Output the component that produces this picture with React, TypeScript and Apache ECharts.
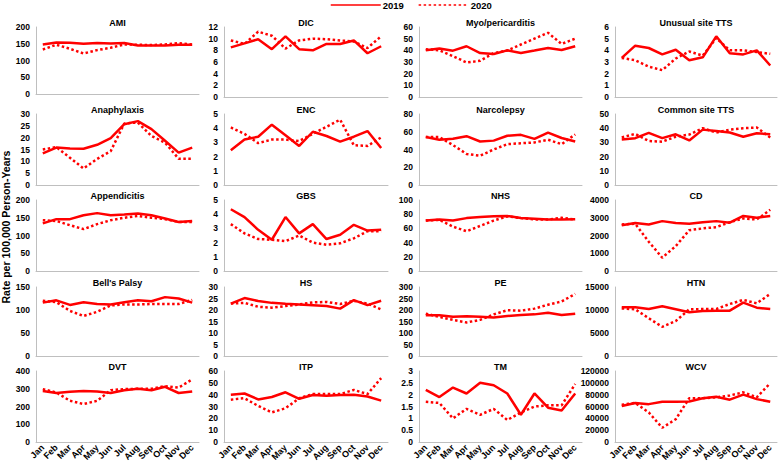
import React, { useEffect, useRef } from "react";
import * as echarts from "echarts";

const months = ["Jan", "Feb", "Mar", "Apr", "May", "Jun", "Jul", "Aug", "Sep", "Oct", "Nov", "Dec"];
const seriesNames = ["2019", "2020"];
const panelNames = [
  "AMI", "DIC", "Myo/pericarditis", "Unusual site TTS",
  "Anaphylaxis", "ENC", "Narcolepsy", "Common site TTS",
  "Appendicitis", "GBS", "NHS", "CD",
  "Bell's Palsy", "HS", "PE", "HTN",
  "DVT", "ITP", "TM", "WCV",
];
const yMax = [200, 12, 60, 6, 30, 5, 80, 50, 200, 5, 100, 4000, 150, 30, 300, 15000, 400, 60, 3, 120000];
const yStep = [50, 2, 10, 1, 5, 1, 20, 10, 50, 1, 20, 1000, 50, 5, 50, 5000, 100, 10, 0.5, 20000];

const ami2019 = [148, 154, 153, 150, 152, 151, 152, 145, 145, 145, 147, 147];
const ami2020 = [133, 147, 135, 121, 131, 138, 148, 147, 146, 148, 152, 148];
const dic2019 = [8.5, 9.2, 9.9, 8.2, 10.4, 8.2, 8.0, 9.1, 9.1, 9.7, 7.5, 8.7];
const dic2020 = [9.7, 9.1, 11.2, 10.5, 8.3, 9.7, 10.0, 9.9, 9.7, 9.5, 8.4, 10.4];
const myo2019 = [40, 41.5, 39.7, 43.5, 37.7, 36.8, 40, 37.7, 39.8, 42, 40.3, 43.5];
const myo2020 = [41, 40, 35, 29.6, 31, 37.7, 39.8, 45, 50, 55, 45.5, 50];
const uTts2019 = [3.35, 4.4, 4.2, 3.65, 4.05, 3.15, 3.4, 5.2, 3.75, 3.65, 4.0, 2.7];
const uTts2020 = [3.35, 3.15, 2.6, 2.3, 3.3, 3.9, 3.55, 5.05, 4.0, 4.0, 3.85, 3.7];
const ana2019 = [13.4, 15.8, 15.4, 15.3, 17, 19.8, 25.7, 27, 23.6, 18.7, 13.7, 15.8];
const ana2020 = [15, 16, 11.5, 7, 11, 14.3, 26, 26.4, 20.7, 17.9, 11.1, 11.1];
const enc2019 = [2.45, 3.2, 3.4, 4.25, 3.5, 2.75, 3.75, 3.45, 3.05, 3.4, 3.8, 2.6];
const enc2020 = [4.05, 3.6, 2.95, 3.2, 3.2, 3.1, 3.6, 4.1, 4.6, 2.8, 2.75, 3.35];
const narc2019 = [54, 51, 52, 55, 49, 50, 55.5, 56.5, 52, 59, 53, 49];
const narc2020 = [54, 54, 45, 35, 33, 40, 46, 47, 48, 51, 46, 57];
const cTts2019 = [32, 33, 36.7, 33, 35.7, 31.4, 39, 38, 37, 34, 36.4, 35.7];
const cTts2020 = [33.5, 36, 31, 30.5, 34, 35.5, 40, 37, 39, 40, 40.5, 33.5];
const app2019 = [134, 146, 146, 157, 163, 157, 159, 162, 157, 148, 138, 141];
const app2020 = [143, 141, 129, 118, 132, 143, 150, 155, 150, 146, 138, 138];
const gbs2019 = [4.35, 3.8, 2.9, 2.2, 3.8, 2.65, 3.3, 2.25, 2.55, 3.25, 2.85, 2.9];
const gbs2020 = [3.3, 2.65, 2.25, 2.2, 2.1, 2.5, 2.0, 1.85, 1.95, 2.3, 2.8, 2.8];
const nhs2019 = [71, 72.5, 71, 74.5, 76, 77, 77.5, 74.5, 73.5, 72.5, 72.5, 73];
const nhs2020 = [71, 72, 62.5, 56, 63.5, 71, 77, 74.5, 72.5, 72.5, 75, 72.5];
const cd2019 = [2580, 2700, 2620, 2810, 2700, 2660, 2740, 2810, 2720, 3100, 3000, 3100];
const cd2020 = [2620, 2660, 1650, 750, 1400, 2300, 2400, 2470, 2750, 2960, 2900, 3450];
const bell2019 = [116, 121, 111, 117, 113, 112, 117, 121, 119, 128, 125, 116];
const bell2020 = [120, 117, 98, 87, 96, 110, 112, 112, 113, 113, 113, 122];
const hs2019 = [22.8, 25.2, 23.9, 23.1, 22.7, 22.4, 22.1, 21.7, 20.6, 24.3, 22.1, 24];
const hs2020 = [22.8, 23.1, 21.4, 21, 21.7, 22.4, 23.3, 23.5, 22.6, 24, 22.8, 20.2];
const pe2019 = [177, 177, 171, 173, 171, 167, 174, 178, 181, 188, 178, 184];
const pe2020 = [184, 170, 157, 146, 157, 181, 199, 197, 206, 223, 237, 270];
const htn2019 = [10600, 10600, 10200, 10800, 10150, 9500, 9800, 9850, 9850, 11600, 10500, 10200];
const htn2020 = [10350, 10150, 8200, 6350, 7600, 10150, 10200, 10200, 11300, 12200, 11450, 13500];
const dvt2019 = [287, 276, 283, 288, 285, 276, 292, 300, 292, 311, 276, 285];
const dvt2020 = [298, 279, 232, 214, 232, 292, 298, 300, 300, 315, 306, 353];
const itp2019 = [40, 41, 36, 38, 42, 36.5, 39.7, 39, 39.7, 40, 38.5, 35];
const itp2020 = [35.8, 37, 30.5, 25, 28.5, 37, 40.5, 40.5, 40.5, 44, 40.5, 54];
const tm2019 = [2.2, 1.9, 2.3, 2.05, 2.5, 2.4, 2.05, 1.15, 2.05, 1.45, 1.33, 2.05];
const tm2020 = [1.7, 1.65, 1.0, 1.4, 1.15, 1.4, 0.93, 1.25, 1.5, 1.55, 1.55, 2.45];
const wcv2019 = [61000, 66000, 64000, 68000, 68000, 68500, 74000, 76500, 71500, 80000, 72500, 68000];
const wcv2020 = [63000, 66000, 50000, 24000, 38500, 74000, 74000, 75500, 78500, 84000, 75500, 99500];

const values2019 = [ami2019, dic2019, myo2019, uTts2019, ana2019, enc2019, narc2019, cTts2019, app2019, gbs2019, nhs2019, cd2019, bell2019, hs2019, pe2019, htn2019, dvt2019, itp2019, tm2019, wcv2019];
const values2020 = [ami2020, dic2020, myo2020, uTts2020, ana2020, enc2020, narc2020, cTts2020, app2020, gbs2020, nhs2020, cd2020, bell2020, hs2020, pe2020, htn2020, dvt2020, itp2020, tm2020, wcv2020];

const colLeft = [36, 224, 419, 615];
const colWidth = [163, 164, 163, 162];
const rowTop = [27, 114, 200, 287, 371];
const rowBottom = [97, 185, 271, 356, 442];

const RED = "#ff0000";
const AXIS = "#bfbfbf";
const FONT = "Liberation Sans, Arial, sans-serif";

export default function App() {
  const ref = useRef<HTMLDivElement>(null);
  useEffect(() => {
    if (!ref.current) return;
    const chart = echarts.init(ref.current, null, { renderer: "svg" });
    const grids: any[] = [];
    const xAxes: any[] = [];
    const yAxes: any[] = [];
    const series: any[] = [];
    const graphics: any[] = [];
    panelNames.forEach((name, i) => {
      const r = Math.floor(i / 4);
      const c = i % 4;
      const top = rowTop[r];
      const bottom = i === 0 ? 94 : rowBottom[r];
      grids.push({ left: colLeft[c], top, width: colWidth[c], height: bottom - top, containLabel: false });
      xAxes.push({
        type: "category",
        gridIndex: i,
        data: months,
        boundaryGap: true,
        axisLine: { show: true, lineStyle: { color: AXIS, width: 1 } },
        axisTick: { show: false },
        splitLine: { show: false },
        axisLabel: {
          show: r === 4,
          interval: 0,
          rotate: 45,
          fontSize: 9,
          fontWeight: "bold",
          color: "#000",
          fontFamily: FONT,
          margin: 4,
        },
      });
      yAxes.push({
        type: "value",
        gridIndex: i,
        min: 0,
        max: yMax[i],
        interval: yStep[i],
        axisLine: { show: true, lineStyle: { color: AXIS, width: 1 } },
        axisTick: { show: false },
        splitLine: { show: false },
        axisLabel: {
          formatter: (v: number) => String(v),
          fontSize: 8.5,
          fontWeight: "bold",
          color: "#000",
          fontFamily: FONT,
          margin: 6,
        },
      });
      series.push({
        name: seriesNames[0],
        type: "line",
        xAxisIndex: i,
        yAxisIndex: i,
        data: values2019[i],
        symbol: "none",
        lineStyle: { color: RED, width: 2.5, type: "solid" },
        itemStyle: { color: RED },
        z: 3,
      });
      series.push({
        name: seriesNames[1],
        type: "line",
        xAxisIndex: i,
        yAxisIndex: i,
        data: values2020[i],
        symbol: "none",
        lineStyle: { color: RED, width: 2.5, type: [2.5, 2.5], cap: "butt" },
        itemStyle: { color: RED },
        z: 2,
      });
      graphics.push({
        type: "text",
        x: colLeft[c] + colWidth[c] / 2,
        y: top - 4,
        style: {
          text: name,
          fontSize: 9,
          fontWeight: "bold",
          fontFamily: FONT,
          fill: "#000",
          textAlign: "center",
          textVerticalAlign: "middle",
          align: "center",
          verticalAlign: "middle",
        },
      });
    });
    graphics.push({
      type: "text",
      x: 6,
      y: 227,
      rotation: Math.PI / 2,
      style: {
        text: "Rate per 100,000 Person-Years",
        fontSize: 10.5,
        fontWeight: "bold",
        fontFamily: FONT,
        fill: "#000",
        textAlign: "center",
        textVerticalAlign: "middle",
        align: "center",
        verticalAlign: "middle",
      },
    });
    chart.setOption({
      animation: false,
      backgroundColor: "#fff",
      textStyle: { fontFamily: FONT },
      legend: {
        data: seriesNames,
        left: 330,
        top: 0,
        itemWidth: 50,
        itemHeight: 8,
        itemGap: 14,
        padding: 0,
        itemStyle: { opacity: 0 },
        lineStyle: { width: 1.5 },
        textStyle: { fontSize: 9.5, fontWeight: "bold", color: "#000", fontFamily: FONT, padding: [0, 0, 0, -3] },
      },
      grid: grids,
      xAxis: xAxes,
      yAxis: yAxes,
      series,
      graphic: graphics,
    });
    return () => chart.dispose();
  }, []);
  return (
    <div
      ref={ref}
      style={{ position: "absolute", left: 0, top: 0, width: 778, height: 466 }}
    />
  );
}
